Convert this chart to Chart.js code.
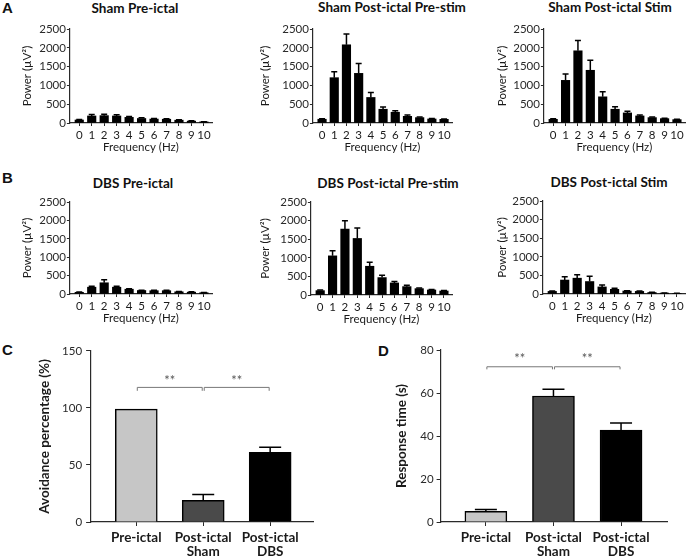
<!DOCTYPE html>
<html><head><meta charset="utf-8">
<script src="https://cdn.jsdelivr.net/npm/chart.js@4.4.1/dist/chart.umd.min.js"></script>
<style>
html,body{margin:0;padding:0;background:#fff;width:688px;height:557px;overflow:hidden;position:relative;font-family:Lato,sans-serif}
canvas{position:absolute}
.t{position:absolute;transform:translate(-50%,-50%);white-space:nowrap;font-weight:bold;font-size:13.5px;color:#111;font-family:Lato,sans-serif}
.l{position:absolute;font-family:'Liberation Sans',Arial,sans-serif;font-weight:bold;font-size:15px;line-height:15px;color:#111}
</style></head><body>
<script>
// ---------- DATA ----------
const freqs = [0,1,2,3,4,5,6,7,8,9,10];
const powerTicks = [0,500,1000,1500,2000,2500];

const shamPreIctal        = [80,187,196,187,150,120,105,100,75,50,30];
const shamPreIctalErr     = [15,38,40,35,25,18,15,15,10,8,6];
const shamPostPreStim     = [100,1205,2080,1320,679,366,286,178,143,107,98];
const shamPostPreStimErr  = [15,160,285,265,135,62,40,36,17,12,10];
const shamPostStim        = [98,1134,1920,1402,696,366,268,188,143,116,90];
const shamPostStimErr     = [15,170,275,270,135,65,45,28,16,12,10];

const dbsPreIctal         = [45,185,305,185,130,95,90,90,60,50,35];
const dbsPreIctalErr      = [10,25,85,25,15,10,10,10,8,8,5];
const dbsPostPreStim      = [117,1052,1772,1520,773,468,324,225,171,135,108];
const dbsPostPreStimErr   = [15,135,224,279,108,62,36,36,18,14,12];
const dbsPostStim         = [70,375,425,335,190,125,80,70,40,25,15];
const dbsPostStimErr      = [10,90,95,140,55,30,10,10,5,5,5];

const groups = [['Pre-ictal'], ['Post-ictal','Sham'], ['Post-ictal','DBS']];
const groupPos = [0,1,2];
const avoidance    = [99,19,61];
const avoidanceErr = [0,5,4.5];
const avoidTicks   = [0,50,100,150];
const respTime     = [5,58.6,42.7];
const respTimeErr  = [0.8,3.2,3.4];
const respTicks    = [0,20,40,60,80];
const sigPairs     = [[0,1],[1,2]];
const sigLabel     = '**';
const avoidSig     = {line:118, tick:115, text:123.5};
const respSig      = {line:72.2, tick:71, text:76};

// ---------- PLUGINS ----------
const errorBars = {
  id:'errorBars',
  afterDatasetsDraw(chart){
    const o = chart.options.plugins.errorBars; if(!o || !o.show) return;
    const ctx = chart.ctx, ys = chart.scales.y;
    chart.data.datasets.forEach((ds,di)=>{
      const meta = chart.getDatasetMeta(di);
      meta.data.forEach((el,i)=>{
        const e = ds.errors[i]; if(!e) return;
        const v = ds.data[i].y;
        const y0 = ys.getPixelForValue(v), y1 = ys.getPixelForValue(v+e);
        ctx.save(); ctx.strokeStyle=o.color; ctx.lineWidth=o.width;
        ctx.beginPath(); ctx.moveTo(el.x,y0); ctx.lineTo(el.x,y1);
        ctx.moveTo(el.x-o.cap/2,y1); ctx.lineTo(el.x+o.cap/2,y1); ctx.stroke(); ctx.restore();
      });
    });
  }
};
const brackets = {
  id:'brackets',
  afterDatasetsDraw(chart){
    const o = chart.options.plugins.brackets; if(!o || !o.show) return;
    const xs=chart.scales.x, ys=chart.scales.y, ctx=chart.ctx;
    ctx.save();
    ctx.strokeStyle=o.color; ctx.fillStyle=o.textColor; ctx.lineWidth=1;
    ctx.font = '13px Lato'; ctx.textAlign='center'; ctx.textBaseline='middle';
    o.pairs.forEach(([a,b])=>{
      const x0 = xs.getPixelForValue(a)+1, x1 = xs.getPixelForValue(b)-1;
      const y = ys.getPixelForValue(o.sig.line), yt = ys.getPixelForValue(o.sig.tick);
      ctx.beginPath(); ctx.moveTo(x0,yt); ctx.lineTo(x0,y); ctx.lineTo(x1,y); ctx.lineTo(x1,yt); ctx.stroke();
      ctx.fillText(o.label,(x0+x1)/2, ys.getPixelForValue(o.sig.text));
    });
    ctx.restore();
  }
};
Chart.register(errorBars, brackets);
Chart.defaults.font.family = 'Lato, sans-serif';

// ---------- LAYOUT ----------
function addText(cls, txt, x, y){
  const d=document.createElement('div'); d.className=cls; d.textContent=txt;
  d.style.left=x+'px'; d.style.top=y+'px'; document.body.appendChild(d);
}

function makeChart(p){
  const lh = p.yTitleSize*1.2;
  const cl = p.yTitleX - lh/2;
  const ct = p.T - 10;
  const YW = p.L - cl;
  const W = Math.round(YW + (p.R - p.L) + p.PR);
  const H = Math.round(10 + (p.B - p.T) + p.XH);
  const cv = document.createElement('canvas');
  cv.width=W; cv.height=H;
  cv.style.left=cl+'px'; cv.style.top=ct+'px'; cv.style.width=W+'px'; cv.style.height=H+'px';
  document.body.appendChild(cv);
  const axisCol = '#2a2a2a';
  new Chart(cv, {
    type:'bar',
    data:{datasets:[{
      data: p.xs.map((x,i)=>({x:x, y:p.values[i]})),
      errors: p.errors,
      backgroundColor: p.colors,
      borderColor: '#000',
      borderWidth: p.border,
      borderSkipped: 'bottom',
      barThickness: p.barW
    }]},
    options:{
      responsive:false, animation:false, devicePixelRatio:1,
      layout:{padding:{top:10,right:p.PR,left:0,bottom:0}},
      plugins:{legend:{display:false}, tooltip:{enabled:false},
        errorBars:{show:true, color:'#000', width:p.errW, cap:p.cap},
        brackets:p.brackets || {show:false}},
      scales:{
        x:{type:'linear', min:p.xmin, max:p.xmax, bounds:'data', offset:false,
          afterBuildTicks: s=>{ s.ticks = p.xs.map(v=>({value:v})); },
          afterFit: s=>{ s.height = p.XH; },
          grid:{display:true, offset:false, drawOnChartArea:false, drawTicks:true, tickLength:p.tickLen, color:axisCol, lineWidth:1},
          border:{display:true, color:axisCol, width:1.2},
          ticks:{padding:p.xPad, color:'#1a1a1a', font:p.xFont, autoSkip:false, maxRotation:0, minRotation:0,
                 callback:(v,i)=>p.xLabels[i]},
          title:{display:!!p.xTitle, text:p.xTitle||'', padding:0, font:{size:11.5}, color:'#1a1a1a'}
        },
        y:{type:'linear', min:0, max:p.ymax, bounds:'data',
          afterBuildTicks: s=>{ s.ticks = p.yTicks.map(v=>({value:v})); },
          afterFit: s=>{ s.width = YW; },
          grid:{display:true, drawOnChartArea:false, drawTicks:true, tickLength:p.tickLen, color:axisCol, lineWidth:1},
          border:{display:true, color:axisCol, width:1.2},
          ticks:{padding:p.yPad, color:'#2a2a2a', font:{size:11.5}, callback:v=>String(v)},
          title:{display:true, text:p.yTitle, padding:0, font:{size:p.yTitleSize, weight:p.yTitleWeight}, color:'#1a1a1a'}
        }
      }
    }
  });
}

const freqBase = {xs:freqs, xLabels:freqs.map(String), xmin:-0.75, xmax:10.65, ymax:2500, yTicks:powerTicks,
  colors:'#000', border:0, barW:8.5, errW:1.5, cap:6, tickLen:3, xPad:2.2, yPad:1, XH:31, PR:3,
  xFont:{size:11.5}, xTitle:'Frequency (Hz)', yTitle:'Power (µV²)', yTitleSize:11.5, yTitleWeight:'normal'};

const freqPanels = [
  {L:70,  R:212, T:29,  B:123, yTitleX:27,  values:shamPreIctal,    errors:shamPreIctalErr,    title:'Sham Pre-ictal',           tx:135, ty:7.5},
  {L:313, R:452, T:29,  B:123, yTitleX:265, values:shamPostPreStim, errors:shamPostPreStimErr, title:'Sham Post-ictal Pre-stim', tx:392, ty:7},
  {L:544, R:685, T:29,  B:123, yTitleX:502, values:shamPostStim,    errors:shamPostStimErr,    title:'Sham Post-ictal Stim',     tx:610, ty:7},
  {L:70,  R:212, T:202, B:294, yTitleX:27,  values:dbsPreIctal,     errors:dbsPreIctalErr,     title:'DBS Pre-ictal',            tx:133, ty:182.5},
  {L:311, R:452, T:202, B:295, yTitleX:265, values:dbsPostPreStim,  errors:dbsPostPreStimErr,  title:'DBS Post-ictal Pre-stim',  tx:388, ty:182.5},
  {L:543, R:685, T:201, B:294, yTitleX:502, values:dbsPostStim,     errors:dbsPostStimErr,     title:'DBS Post-ictal Stim',      tx:609, ty:182}
];
freqPanels.forEach(fp=>{ makeChart(Object.assign({}, freqBase, fp)); addText('t', fp.title, fp.tx, fp.ty); });

const groupColors = ['#c6c6c6','#4a4a4a','#000000'];
const grpBase = {xs:groupPos, xLabels:groups, colors:groupColors, border:1.5, barW:42, errW:1.5, cap:22,
  tickLen:4, xPad:4.5, yPad:4, XH:35, PR:5, xFont:{size:13.5, weight:'bold', lineHeight:1.05},
  yTitleSize:13.5, yTitleWeight:'bold'};
makeChart(Object.assign({}, grpBase, {L:90, R:313, T:350, B:522, yTitleX:45, xmin:-0.69, xmax:2.64,
  ymax:150, yTicks:avoidTicks, values:avoidance, errors:avoidanceErr, yTitle:'Avoidance percentage (%)',
  brackets:{show:true, pairs:sigPairs, sig:avoidSig, label:sigLabel, color:'#777', textColor:'#555'}}));
makeChart(Object.assign({}, grpBase, {L:441, R:667, T:350, B:522, yTitleX:402.5, xmin:-0.67, xmax:2.68,
  ymax:80, yTicks:respTicks, values:respTime, errors:respTimeErr, yTitle:'Response time (s)', yPad:3,
  brackets:{show:true, pairs:sigPairs, sig:respSig, label:sigLabel, color:'#777', textColor:'#555'}}));

addText('l','A',2,0);
addText('l','B',2,170);
addText('l','C',2,342);
addText('l','D',378,343);
</script>
</body></html>
